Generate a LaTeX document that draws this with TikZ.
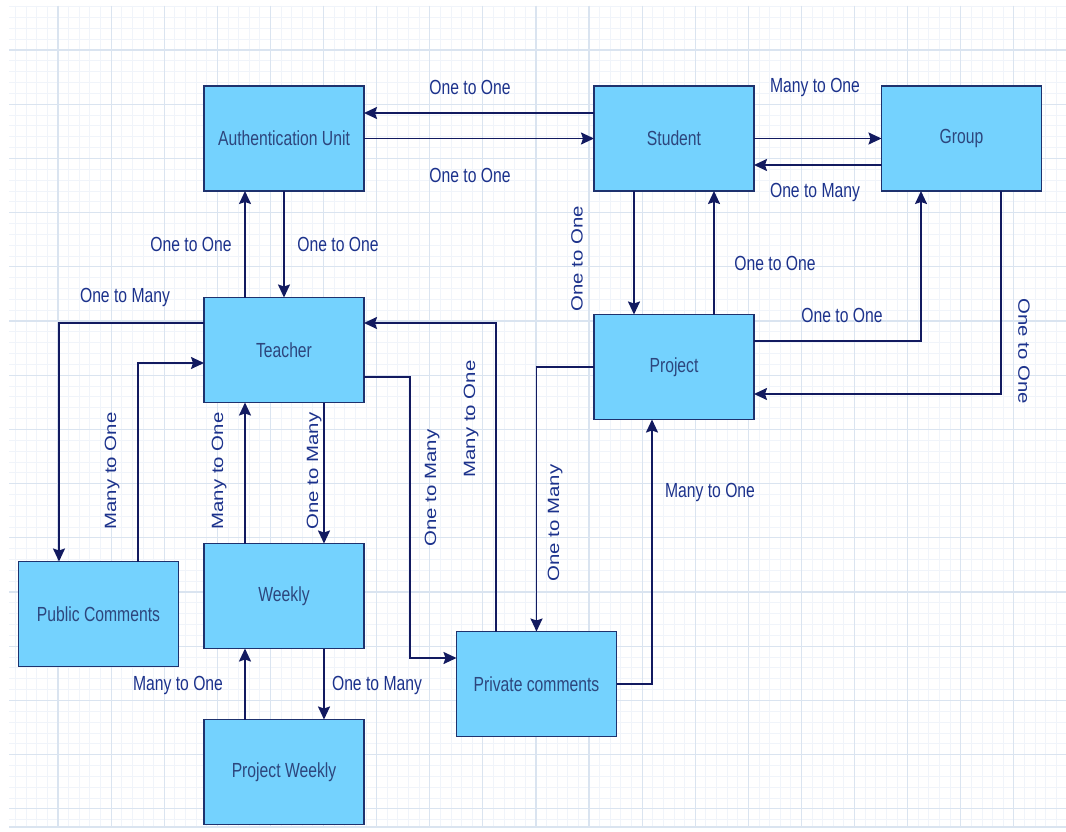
\documentclass[tikz,border=0pt]{standalone}
\usepackage{fontspec}
\usepackage{xcolor}
\setmainfont{Liberation Sans}
\newfontfamily\narrowfont{Liberation Sans}[FakeStretch=0.77]
\usetikzlibrary{arrows.meta}
\definecolor{boxfill}{RGB}{116,210,254}
\definecolor{boxline}{RGB}{30,50,110}
\definecolor{wire}{RGB}{18,26,96}
\definecolor{lbltext}{RGB}{28,50,140}
\definecolor{boxtext}{RGB}{45,70,125}
\definecolor{gridmajor}{RGB}{218,228,240}
\definecolor{gridminor}{RGB}{240,244,250}

\begin{document}
\begin{tikzpicture}[x=1pt,y=-1pt,
entity/.style={draw=boxline,line width=1.8pt,fill=boxfill,minimum width=160pt,minimum height=105pt,outer sep=0pt,inner sep=0pt,text=boxtext,font=\narrowfont\fontsize{20.4}{24}\selectfont},
rel/.style={draw=wire,line width=1.8pt,-{Stealth[length=13pt,width=12pt,inset=2pt]}},
hlab/.style={text=lbltext,font=\narrowfont\fontsize{20.4}{24}\selectfont,inner sep=0pt},
vlab/.style={text=lbltext,font=\fontsize{20.4}{24}\selectfont,inner sep=0pt,rotate=90,yscale=0.8}]
\useasboundingbox(0,0)rectangle(1066,832);
\fill[white](0,0)rectangle(1066,832);
% grid paper
\begin{scope}
\clip(9,6)rectangle(1066,827);
\foreach \i in {0,...,100}\draw[gridminor,line width=0.8pt]({4.9+10.62*\i},6)--++(0,821);
\foreach \i in {0,...,80}\draw[gridminor,line width=0.8pt](9,{-4.2+10.84*\i})--++(1057,0);
\foreach \i in {0,...,20}\draw[gridmajor,line width=1.2pt]({4.9+53.1*\i},6)--++(0,821);
\foreach \i in {0,...,16}\draw[gridmajor,line width=1.2pt](9,{-4.2+54.2*\i})--++(1057,0);
\draw[gridmajor,line width=1.2pt](9,827)--(1066,827);
\end{scope}
% entities
\node[entity](auth)at(284,138.5){Authentication Unit};
\node[entity](student)at(674,138.5){Student};
\node[entity](group)at(961.5,138.5){Group};
\node[entity](teacher)at(284,350){Teacher};
\node[entity](project)at(674,367){Project};
\node[entity](pubcom)at(98.5,614){Public Comments};
\node[entity](weekly)at(284,596){Weekly};
\node[entity](projweekly)at(284,772){Project Weekly};
\node[entity](privcom)at(536.5,684){Private comments};
% relations
\draw[rel]([yshift=25.5pt]student.west)--([yshift=25.5pt]auth.east);
\draw[rel](auth.east)--(student.west);
\draw[rel](student.east)--(group.west);
\draw[rel]([yshift=-26.5pt]group.west)--([yshift=-26.5pt]student.east);
\draw[rel]([xshift=-39pt]teacher.north)--([xshift=-39pt]auth.south);
\draw[rel](auth.south)--(teacher.north);
\draw[rel]([yshift=27pt]teacher.west)-|([xshift=-39.5pt]pubcom.north);
\draw[rel]([xshift=39.5pt]pubcom.north)|-([yshift=-13pt]teacher.west);
\draw[rel]([xshift=-39pt]weekly.north)--([xshift=-39pt]teacher.south);
\draw[rel]([xshift=40pt]teacher.south)--([xshift=40pt]weekly.north);
\draw[rel]([xshift=-39pt]projweekly.north)--([xshift=-39pt]weekly.south);
\draw[rel]([xshift=40pt]weekly.south)--([xshift=40pt]projweekly.north);
\draw[rel]([yshift=-27pt]teacher.east)--++(46,0)|-([yshift=26pt]privcom.west);
\draw[rel]([xshift=-40.5pt]privcom.north)|-([yshift=27pt]teacher.east);
\draw[rel](project.west)-|(privcom.north);
\draw[rel](privcom.east)-|([xshift=-22pt]project.south);
\draw[rel]([xshift=-40pt]student.south)--([xshift=-40pt]project.north);
\draw[rel]([xshift=40pt]project.north)--([xshift=40pt]student.south);
\draw[rel]([yshift=26pt]project.east)-|([xshift=-40.5pt]group.south);
\draw[rel]([xshift=39.5pt]group.south)|-([yshift=-27pt]project.east);
% cardinality labels
\node[hlab](l1)at(470,87){One to One};
\node[hlab](l2)at(470,175){One to One};
\node[hlab](l3)at(815,87){Many to One};
\node[hlab](l4)at(815,192){One to Many};
\node[hlab](l5)at(191,244){One to One};
\node[hlab](l6)at(338,244){One to One};
\node[hlab](l7)at(125,297){One to Many};
\node[vlab](l8)at(112,471){Many to One};
\node[vlab](l9)at(219,471){Many to One};
\node[vlab](l10)at(314,471){One to Many};
\node[hlab](l11)at(178,685){Many to One};
\node[hlab](l12)at(377,685){One to Many};
\node[vlab](l13)at(432,488){One to Many};
\node[vlab](l14)at(471,419){Many to One};
\node[vlab](l15)at(555,523){One to Many};
\node[hlab](l16)at(710,492){Many to One};
\node[vlab](l17)at(577,259){One to One};
\node[hlab](l18)at(775,263){One to One};
\node[hlab](l19)at(842,315){One to One};
\node[vlab,rotate=180](l20)at(1024,351){One to One};
\end{tikzpicture}
\end{document}
